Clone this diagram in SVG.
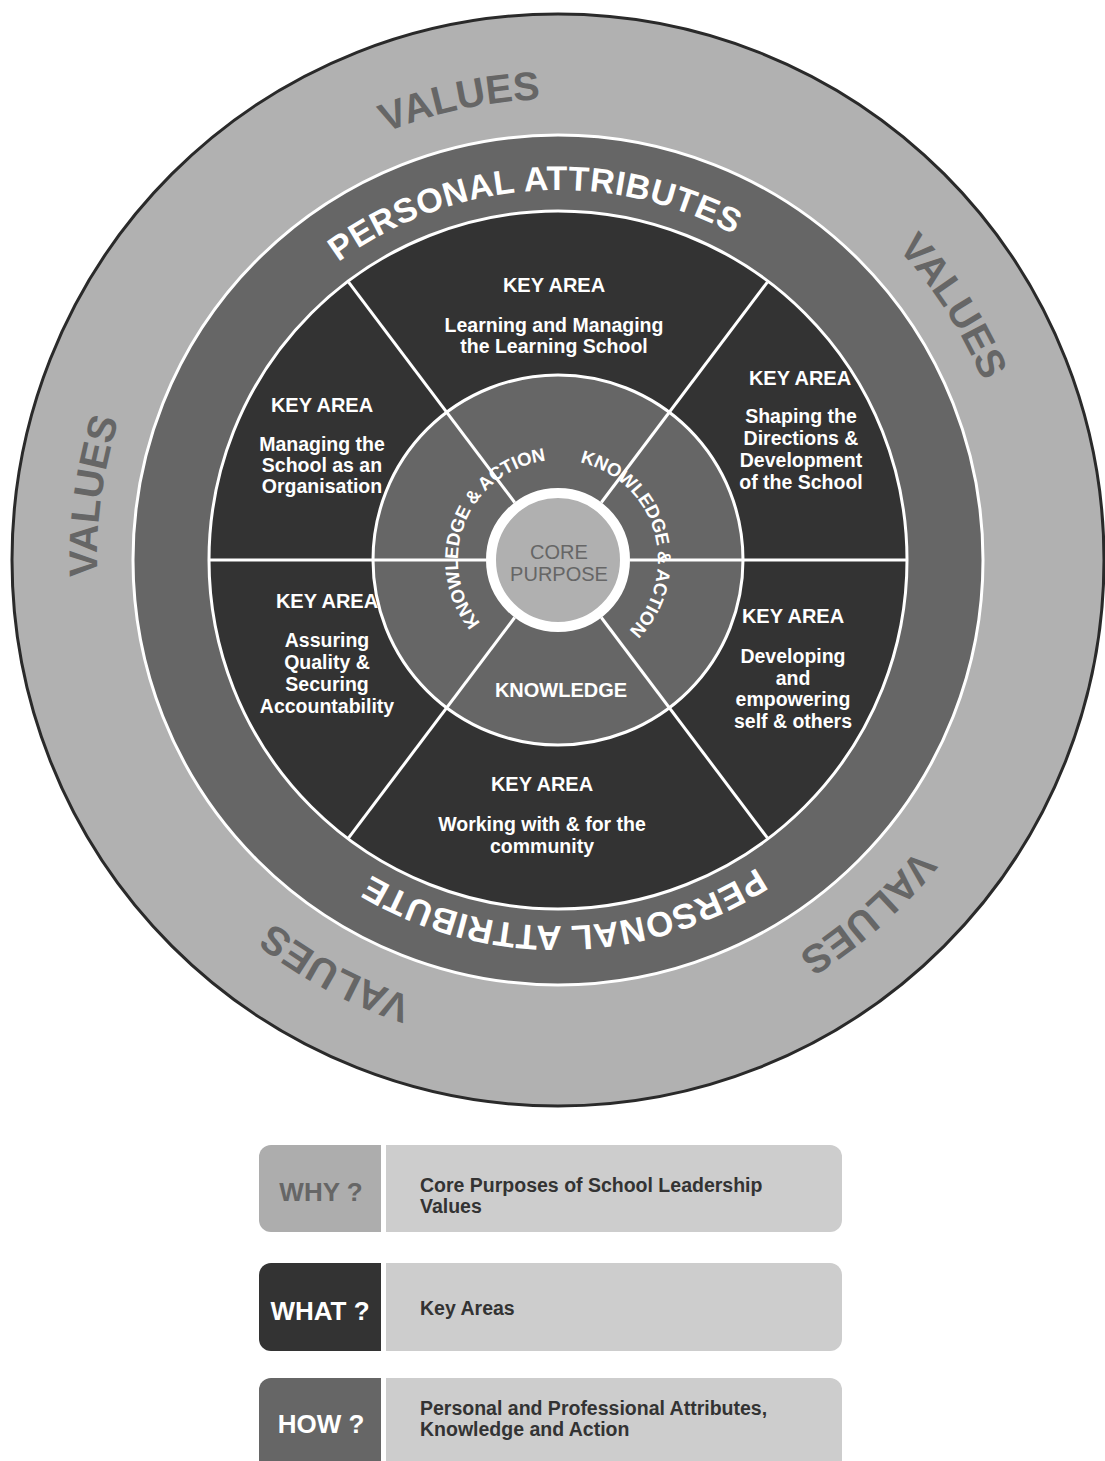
<svg xmlns="http://www.w3.org/2000/svg" width="1105" height="1461" viewBox="0 0 1105 1461">
<style>
  text { font-family: "Liberation Sans", Arial, sans-serif; font-weight: bold; }
  .ka { fill: #ffffff; font-size: 19.5px; text-anchor: middle; }
  .kh { font-size: 20px; }
  .val { fill: #666666; font-size: 40px; text-anchor: middle; }
  .pa { fill: #ffffff; font-size: 34px; text-anchor: middle; letter-spacing: 0.5px; }
  .kn { fill: #ffffff; font-size: 18.5px; text-anchor: middle; letter-spacing: -0.2px; }
  .div { stroke: #ffffff; stroke-width: 3; }
  .lab { font-size: 26px; text-anchor: middle; }
  .desc { fill: #333333; font-size: 19.5px; }
  .core { font-weight: normal; font-size: 20px; fill: #666666; text-anchor: middle; }
</style>
<defs>
  <path id="valuesPath" d="M 1019,560 A 461 461 0 1 1 97,560 A 461 461 0 1 1 1019,560"/>
  <path id="paTop" d="M 928,560 A 370 370 0 1 1 188,560 A 370 370 0 1 1 928,560"/>
  <path id="paBottom" d="M 924,560 A 366 366 0 1 1 192,560 A 366 366 0 1 1 924,560"/>
  <path id="innerPath" d="M 558,660 A 100 100 0 1 1 558,460 A 100 100 0 1 1 558,660"/>
</defs>
<rect x="0" y="0" width="1105" height="1461" fill="#ffffff"/>

<g id="values-ring">
  <circle cx="558" cy="560" r="546" fill="#b1b1b1" stroke="#2a2a2a" stroke-width="3"/>
  <text class="val"><textPath href="#valuesPath" startOffset="71.64%">VALUES</textPath></text>
  <text class="val"><textPath href="#valuesPath" startOffset="90.92%">VALUES</textPath></text>
  <text class="val"><textPath href="#valuesPath" startOffset="52.17%">VALUES</textPath></text>
  <text class="val"><textPath href="#valuesPath" startOffset="32.86%">VALUES</textPath></text>
  <text class="val"><textPath href="#valuesPath" startOffset="13.53%">VALUES</textPath></text>
</g>

<g id="attributes-ring">
  <circle cx="558" cy="560" r="425" fill="#666666" stroke="#ffffff" stroke-width="3"/>
  <text class="pa"><textPath href="#paTop" startOffset="73.9%">PERSONAL ATTRIBUTES</textPath></text>
  <text class="pa" style="font-size:35px"><textPath href="#paBottom" startOffset="24.7%">PERSONAL ATTRIBUTE</textPath></text>
</g>

<g id="key-areas">
  <circle cx="558" cy="560" r="349" fill="#333333" stroke="#ffffff" stroke-width="3"/>
</g>

<g id="knowledge-ring">
  <circle cx="558" cy="560" r="185" fill="#666666" stroke="#ffffff" stroke-width="3"/>
</g>

<g id="connectors">
  <line class="div" x1="630" y1="560" x2="906" y2="560"/>
  <line class="div" x1="486" y1="560" x2="210" y2="560"/>
  <line class="div" x1="601.3" y1="617.5" x2="767.4" y2="837.9"/>
  <line class="div" x1="514.7" y1="617.5" x2="348.6" y2="837.9"/>
  <line class="div" x1="514.7" y1="502.5" x2="348.6" y2="282.1"/>
  <line class="div" x1="601.3" y1="502.5" x2="767.4" y2="282.1"/>
</g>

<g id="knowledge-labels">
  <text class="kn"><textPath href="#innerPath" startOffset="31.1%">KNOWLEDGE &amp; ACTION</textPath></text>
  <text class="kn"><textPath href="#innerPath" startOffset="70.5%">KNOWLEDGE &amp; ACTION</textPath></text>
  <text class="ka kh" x="561" y="697">KNOWLEDGE</text>
</g>

<g id="core">
  <circle cx="558" cy="560" r="67" fill="#b0b0b0" stroke="#ffffff" stroke-width="10"/>
  <text class="core" x="559" y="559">CORE</text>
  <text class="core" x="559" y="581">PURPOSE</text>
</g>

<g id="ka-top">
  <text class="ka kh" x="554" y="292">KEY AREA</text>
  <text class="ka" x="554" y="332">Learning and Managing</text>
  <text class="ka" x="554" y="353">the Learning School</text>
</g>
<g id="ka-upper-left">
  <text class="ka kh" x="322" y="412">KEY AREA</text>
  <text class="ka" x="322" y="451">Managing the</text>
  <text class="ka" x="322" y="472">School as an</text>
  <text class="ka" x="322" y="493">Organisation</text>
</g>
<g id="ka-upper-right">
  <text class="ka kh" x="800" y="385">KEY AREA</text>
  <text class="ka" x="801" y="423">Shaping the</text>
  <text class="ka" x="801" y="445">Directions &amp;</text>
  <text class="ka" x="801" y="467">Development</text>
  <text class="ka" x="801" y="489">of the School</text>
</g>
<g id="ka-lower-left">
  <text class="ka kh" x="327" y="608">KEY AREA</text>
  <text class="ka" x="327" y="647">Assuring</text>
  <text class="ka" x="327" y="669">Quality &amp;</text>
  <text class="ka" x="327" y="691">Securing</text>
  <text class="ka" x="327" y="713">Accountability</text>
</g>
<g id="ka-lower-right">
  <text class="ka kh" x="793" y="623">KEY AREA</text>
  <text class="ka" x="793" y="663">Developing</text>
  <text class="ka" x="793" y="685">and</text>
  <text class="ka" x="793" y="706">empowering</text>
  <text class="ka" x="793" y="728">self &amp; others</text>
</g>
<g id="ka-bottom">
  <text class="ka kh" x="542" y="791">KEY AREA</text>
  <text class="ka" x="542" y="831">Working with &amp; for the</text>
  <text class="ka" x="542" y="853">community</text>
</g>

<g id="legend-why">
  <path d="M271,1145 H381 V1232 H271 A12,12 0 0 1 259,1220 V1157 A12,12 0 0 1 271,1145 Z" fill="#adadad"/>
  <path d="M386,1145 H830 A12,12 0 0 1 842,1157 V1220 A12,12 0 0 1 830,1232 H386 Z" fill="#cdcdcd"/>
  <text class="lab" x="321" y="1201" fill="#666666">WHY ?</text>
  <text class="desc" x="420" y="1192">Core Purposes of School Leadership</text>
  <text class="desc" x="420" y="1213">Values</text>
</g>
<g id="legend-what">
  <path d="M271,1263 H381 V1351 H271 A12,12 0 0 1 259,1339 V1275 A12,12 0 0 1 271,1263 Z" fill="#333333"/>
  <path d="M386,1263 H830 A12,12 0 0 1 842,1275 V1339 A12,12 0 0 1 830,1351 H386 Z" fill="#cdcdcd"/>
  <text class="lab" x="320" y="1320" fill="#ffffff">WHAT ?</text>
  <text class="desc" x="420" y="1315">Key Areas</text>
</g>
<g id="legend-how">
  <path d="M271,1378 H381 V1470 H259 V1390 A12,12 0 0 1 271,1378 Z" fill="#666666"/>
  <path d="M386,1378 H830 A12,12 0 0 1 842,1390 V1470 H386 Z" fill="#cdcdcd"/>
  <text class="lab" x="321" y="1433" fill="#ffffff">HOW ?</text>
  <text class="desc" x="420" y="1415">Personal and Professional Attributes,</text>
  <text class="desc" x="420" y="1436">Knowledge and Action</text>
</g>
</svg>
